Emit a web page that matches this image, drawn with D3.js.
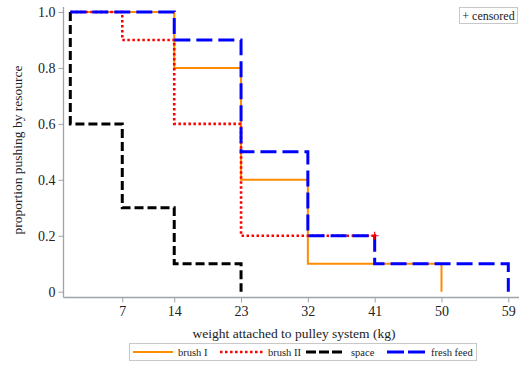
<!DOCTYPE html>
<html><head><meta charset="utf-8">
<script src="https://cdn.jsdelivr.net/npm/d3@7"></script>
<style>body{margin:0;background:#fff}svg{display:block}</style>
</head><body><svg id="c" width="520" height="365"></svg>
<script>
const xTicks = [7, 14, 23, 32, 41, 50, 59];
const yTicks = [0, 0.2, 0.4, 0.6, 0.8, 1.0];
const brush1X = [0, 14, 23, 32, 50];
const brush1Y = [1.0, 0.8, 0.4, 0.1, 0];
const brush2X = [0, 7, 14, 23, 41];
const brush2Y = [1.0, 0.9, 0.6, 0.2, 0.2];
const spaceX = [0, 7, 14, 23];
const spaceY = [0.6, 0.3, 0.1, 0];
const freshX = [0, 14, 23, 32, 41, 59];
const freshY = [1.0, 0.9, 0.5, 0.2, 0.1, 0];
const censored = [{x: 41, y: 0.2, color: "#ff0000"}];

const FONT = "Liberation Serif";
const svg = d3.select("#c").attr("font-family", FONT);
const x = d3.scaleLinear().domain([0, 59]).range([70.3, 508.3]);
const y = d3.scaleLinear().domain([0, 1]).range([291.7, 12]);
const axisCol = "#a0a4a8";

svg.append("line").attr("x1", 63.5).attr("x2", 519).attr("y1", 297.5).attr("y2", 297.5).attr("stroke", axisCol).attr("stroke-width", 1.3);
svg.append("line").attr("x1", 63.5).attr("x2", 63.5).attr("y1", 7).attr("y2", 297.5).attr("stroke", axisCol).attr("stroke-width", 1.3);

const xa = svg.append("g").attr("transform", "translate(0,297.5)")
  .call(d3.axisBottom(x).tickValues(xTicks).tickSize(5).tickPadding(4).tickFormat(d3.format("d")));
const ya = svg.append("g").attr("transform", "translate(63.5,0)")
  .call(d3.axisLeft(y).tickValues(yTicks).tickSize(5).tickPadding(3).tickFormat(d => d === 0 ? "0" : d3.format(".1f")(d)));
[xa, ya].forEach(g => {
  g.attr("font-family", FONT).attr("font-size", 14);
  g.select(".domain").remove();
  g.selectAll("line").attr("stroke", axisCol);
  g.selectAll("text").attr("font-family", FONT).attr("font-size", 14).attr("fill", "#222");
});

function txt(xp, yp, s, size, anchor) {
  return svg.append("text").attr("x", xp).attr("y", yp).attr("font-family", FONT).attr("font-size", size)
    .attr("fill", "#222").attr("text-anchor", anchor || "start").text(s);
}
txt(294, 338, "weight attached to pulley system (kg)", 13.5, "middle");
txt(0, 0, "proportion pushing by resource", 13.5, "middle").attr("transform", "translate(22,150) rotate(-90)");

function steps(xs, ys, startTop) {
  const pts = [];
  if (startTop) pts.push([x(xs[0]), y(1)]);
  for (let i = 0; i < xs.length; i++) {
    pts.push([x(xs[i]), y(ys[i])]);
    if (i < xs.length - 1) pts.push([x(xs[i + 1]), y(ys[i])]);
  }
  return d3.line()(pts);
}

const series = [
  {xs: brush1X, ys: brush1Y, color: "#ff8c00", w: 2, dash: null, top: false, name: "brush I"},
  {xs: brush2X, ys: brush2Y, color: "#ff0000", w: 2.6, dash: "2.5,2.5", top: false, name: "brush II"},
  {xs: spaceX, ys: spaceY, color: "#000000", w: 3, dash: "9,4", top: true, name: "space"},
  {xs: freshX, ys: freshY, color: "#0000ff", w: 3, dash: "16,6", top: false, name: "fresh feed"}
];
series.forEach(s => {
  svg.append("path").attr("d", steps(s.xs, s.ys, s.top)).attr("fill", "none")
    .attr("stroke", s.color).attr("stroke-width", s.w).attr("stroke-dasharray", s.dash);
});
censored.forEach(c => {
  const cx = x(c.x), cy = y(c.y);
  svg.append("path").attr("d", `M${cx-4},${cy}H${cx+4}M${cx},${cy-4}V${cy+4}`).attr("stroke", c.color).attr("stroke-width", 1.2).attr("fill", "none");
});

svg.append("rect").attr("x", 459.5).attr("y", 7.5).attr("width", 58).attr("height", 16).attr("fill", "#fff").attr("stroke", "#c8c8c8");
txt(488.5, 20, "+ censored", 12, "middle");

svg.append("rect").attr("x", 129.5).attr("y", 343.5).attr("width", 347).attr("height", 17).attr("fill", "#fff").attr("stroke", "#c8c8c8");
const legPos = [{lx: 133, len: 40, tx: 178}, {lx: 220, len: 43, tx: 268}, {lx: 306, len: 36, tx: 351}, {lx: 387, len: 38, tx: 431}];
const legDash = [null, "2.5,2.5", "10,3", "17,4"];
series.forEach((s, i) => {
  const p = legPos[i];
  svg.append("line").attr("x1", p.lx).attr("x2", p.lx + p.len).attr("y1", 352).attr("y2", 352)
    .attr("stroke", s.color).attr("stroke-width", s.w).attr("stroke-dasharray", legDash[i]);
  txt(p.tx, 356, s.name, 10.5);
});
</script></body></html>
